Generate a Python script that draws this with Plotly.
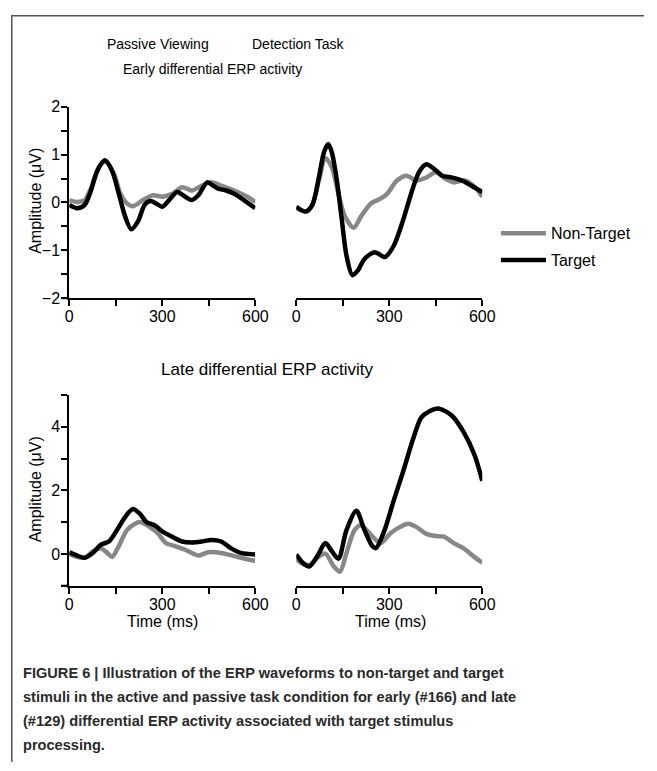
import plotly.graph_objects as go

# ---------------- data ----------------
# Passive viewing, early differential ERP
pe_target_t = [0, 25, 50, 70, 90, 115, 138, 160, 180, 200, 222, 243, 262, 280, 300, 322, 348, 374, 395, 416, 445, 464, 480, 506, 532, 563, 600]
pe_target_v = [-0.05, -0.12, -0.05, 0.25, 0.66, 0.88, 0.66, 0.18, -0.29, -0.56, -0.39, -0.05, 0.03, -0.02, -0.09, 0.05, 0.22, 0.12, 0.05, 0.15, 0.42, 0.35, 0.29, 0.25, 0.18, 0.05, -0.12]
pe_nontarget_t = [0, 23, 50, 70, 100, 118, 144, 165, 186, 205, 238, 270, 300, 332, 364, 395, 427, 458, 490, 532, 574, 600]
pe_nontarget_v = [0.05, 0.01, 0.05, 0.3, 0.78, 0.85, 0.6, 0.18, -0.02, -0.08, 0.05, 0.15, 0.12, 0.18, 0.32, 0.25, 0.35, 0.42, 0.35, 0.25, 0.12, 0.01]

# Detection task, early differential ERP
de_target_t = [0, 31, 52, 73, 89, 103, 115, 131, 147, 162, 181, 199, 220, 253, 286, 314, 345, 377, 398, 420, 445, 471, 503, 534, 565, 600]
de_target_v = [-0.09, -0.19, -0.05, 0.52, 1.04, 1.22, 1.04, 0.46, -0.36, -1.11, -1.52, -1.42, -1.18, -1.04, -1.14, -0.91, -0.36, 0.32, 0.66, 0.8, 0.7, 0.56, 0.52, 0.46, 0.35, 0.22]
de_nontarget_t = [0, 31, 52, 73, 94, 115, 136, 157, 185, 209, 241, 272, 293, 325, 356, 387, 419, 450, 482, 508, 544, 576, 600]
de_nontarget_v = [-0.12, -0.19, -0.05, 0.46, 0.93, 0.73, 0.18, -0.29, -0.53, -0.29, -0.02, 0.08, 0.18, 0.46, 0.56, 0.46, 0.52, 0.63, 0.49, 0.42, 0.46, 0.32, 0.12]

# Passive viewing, late differential ERP
pl_target_t = [0, 18, 49, 76, 102, 128, 154, 180, 205, 228, 249, 275, 301, 332, 364, 395, 427, 458, 490, 521, 553, 600]
pl_target_v = [0.05, -0.02, -0.12, 0.03, 0.29, 0.39, 0.75, 1.16, 1.41, 1.26, 1.0, 0.9, 0.7, 0.54, 0.39, 0.36, 0.39, 0.44, 0.39, 0.18, 0.03, -0.02]
pl_nontarget_t = [0, 23, 49, 76, 102, 123, 138, 159, 186, 212, 228, 259, 285, 312, 343, 374, 416, 448, 490, 532, 574, 600]
pl_nontarget_v = [0.0, -0.09, -0.12, 0.08, 0.18, 0.03, -0.1, 0.23, 0.75, 0.95, 1.0, 0.85, 0.65, 0.34, 0.24, 0.13, -0.05, 0.05, 0.03, -0.07, -0.17, -0.22]

# Detection task, late differential ERP
dl_target_t = [0, 21, 42, 68, 94, 115, 136, 162, 194, 220, 246, 257, 283, 314, 345, 377, 403, 430, 461, 503, 540, 575, 600]
dl_target_v = [-0.02, -0.28, -0.4, -0.07, 0.34, 0.08, -0.15, 0.75, 1.36, 0.75, 0.24, 0.18, 0.7, 1.67, 2.6, 3.62, 4.29, 4.49, 4.57, 4.34, 3.83, 3.11, 2.3]
dl_nontarget_t = [0, 26, 47, 68, 94, 120, 141, 162, 188, 209, 241, 272, 304, 335, 361, 387, 419, 450, 476, 508, 539, 571, 600]
dl_nontarget_v = [-0.17, -0.33, -0.33, -0.12, 0.01, -0.38, -0.56, 0.03, 0.75, 0.9, 0.6, 0.34, 0.65, 0.85, 0.95, 0.85, 0.63, 0.56, 0.54, 0.34, 0.18, -0.07, -0.28]

series_names = ["Non-Target", "Target"]
x_tickvals = [0, 150, 300, 450, 600]
x_ticktext = ["0", "", "300", "", "600"]
early_tickvals = [-2, -1.5, -1, -0.5, 0, 0.5, 1, 1.5, 2]
early_ticktext = ["−2", "", "−1", "", "0", "", "1", "", "2"]
late_tickvals = [-1, 0, 1, 2, 3, 4, 5]
late_ticktext = ["", "0", "", "2", "", "4", ""]

caption_lines = [
    "FIGURE 6 | Illustration of the ERP waveforms to non-target and target",
    "stimuli in the active and passive task condition for early (#166) and late",
    "(#129) differential ERP activity associated with target stimulus",
    "processing.",
]

# ---------------- layout helpers ----------------
W, H = 657, 771
def fx(p):
    return p / W
def fy(p):
    return 1 - p / H

GRAY = "#878787"
BLACK = "#000000"
LW = 4.5
SANS = "Liberation Sans, Arial, Helvetica, sans-serif"
TICKFONT = dict(family=SANS, size=16, color="black")

fig = go.Figure()

panels = [
    ("x", "y", pe_nontarget_t, pe_nontarget_v, pe_target_t, pe_target_v, True),
    ("x2", "y2", de_nontarget_t, de_nontarget_v, de_target_t, de_target_v, False),
    ("x3", "y3", pl_nontarget_t, pl_nontarget_v, pl_target_t, pl_target_v, False),
    ("x4", "y4", dl_nontarget_t, dl_nontarget_v, dl_target_t, dl_target_v, False),
]
for xa, ya, nt_t, nt_v, t_t, t_v, show in panels:
    fig.add_trace(go.Scatter(x=nt_t, y=nt_v, mode="lines", name=series_names[0],
                             legendgroup="nt",
                             line=dict(color=GRAY, width=LW, shape="spline", smoothing=0.8),
                             xaxis=xa, yaxis=ya, showlegend=show))
    fig.add_trace(go.Scatter(x=t_t, y=t_v, mode="lines", name=series_names[1],
                             legendgroup="t",
                             line=dict(color=BLACK, width=LW, shape="spline", smoothing=0.8),
                             xaxis=xa, yaxis=ya, showlegend=show))

def xaxis_def(x0, x1, anchor):
    return dict(domain=[fx(x0), fx(x1)], range=[0, 600], anchor=anchor,
                showline=True, linecolor="black", linewidth=2,
                ticks="outside", ticklen=6, tickwidth=2, tickcolor="black",
                tickvals=x_tickvals, ticktext=x_ticktext, tickfont=TICKFONT,
                ticklabelstandoff=-3,
                showgrid=False, zeroline=False, fixedrange=True)

def yaxis_def(top, bottom, rng, tv, tt, anchor, visible=True):
    d = dict(domain=[fy(bottom), fy(top)], range=rng, anchor=anchor,
             showgrid=False, zeroline=False, fixedrange=True)
    if visible:
        d.update(showline=True, linecolor="black", linewidth=2,
                 ticks="outside", ticklen=6, tickwidth=2, tickcolor="black",
                 tickvals=tv, ticktext=tt, tickfont=TICKFONT, ticklabelstandoff=-2)
    else:
        d.update(visible=False)
    return d

E_TOP, E_BOT = 101, 296.7
L_TOP, L_BOT = 395.7, 590.7
LX0, LX1 = 67, 258
RX0, RX1 = 300, 491

fig.update_layout(
    width=W, height=H, margin=dict(l=0, r=0, t=0, b=0),
    paper_bgcolor="white", plot_bgcolor="white",
    xaxis=xaxis_def(LX0, LX1, "y"),
    yaxis=yaxis_def(E_TOP, E_BOT, [-2, 2], early_tickvals, early_ticktext, "x"),
    xaxis2=xaxis_def(RX0, RX1, "y2"),
    yaxis2=yaxis_def(E_TOP, E_BOT, [-2, 2], None, None, "x2", visible=False),
    xaxis3=xaxis_def(LX0, LX1, "y3"),
    yaxis3=yaxis_def(L_TOP, L_BOT, [-1, 5], late_tickvals, late_ticktext, "x3"),
    xaxis4=xaxis_def(RX0, RX1, "y4"),
    yaxis4=yaxis_def(L_TOP, L_BOT, [-1, 5], None, None, "x4", visible=False),
    legend=dict(x=fx(505), y=fy(213), xanchor="left", yanchor="top",
                font=dict(family=SANS, size=16, color="black"),
                itemwidth=45,
                bgcolor="rgba(0,0,0,0)", borderwidth=0, tracegroupgap=3),
    showlegend=True,
)

# small overhang of x-axis lines left of the y-axis in left panels
for xd, yd in [("x domain", "y domain"), ("x3 domain", "y3 domain")]:
    fig.add_shape(type="line", xref=xd, yref=yd, x0=-0.042, x1=0, y0=0, y1=0,
                  line=dict(color="black", width=2))

# frame
fig.add_shape(type="path", xref="paper", yref="paper",
              path=f"M {fx(8)},0 L {fx(8)},{fy(8)} L 1,{fy(8)}",
              line=dict(color="#555555", width=1.5))

ann = []
def text(x, y, s, size=16, family=SANS, xanchor="center", angle=0, color="black"):
    ann.append(dict(x=fx(x), y=fy(y), xref="paper", yref="paper", text=s, showarrow=False,
                    xanchor=xanchor, yanchor="middle", textangle=angle,
                    font=dict(family=family, size=size, color=color)))

text(158, 37, "Passive Viewing", size=14)
text(302, 37, "Detection Task", size=14)
text(214, 62, "Early differential ERP activity", size=14)
text(270, 370, "Late differential ERP activity", size=17)
text(32, 197, "Amplitude (μV)", angle=-90)
text(32, 492, "Amplitude (μV)", angle=-90)
text(163, 627, "Time (ms)")
text(397, 627, "Time (ms)")
for s, yy in zip(caption_lines, [680, 704.5, 729, 753.5]):
    text(17, yy, "<b>" + s + "</b>", size=14.6, xanchor="left", color="#2a2a2a")

fig.update_layout(annotations=ann)
fig.write_html("out.html")
